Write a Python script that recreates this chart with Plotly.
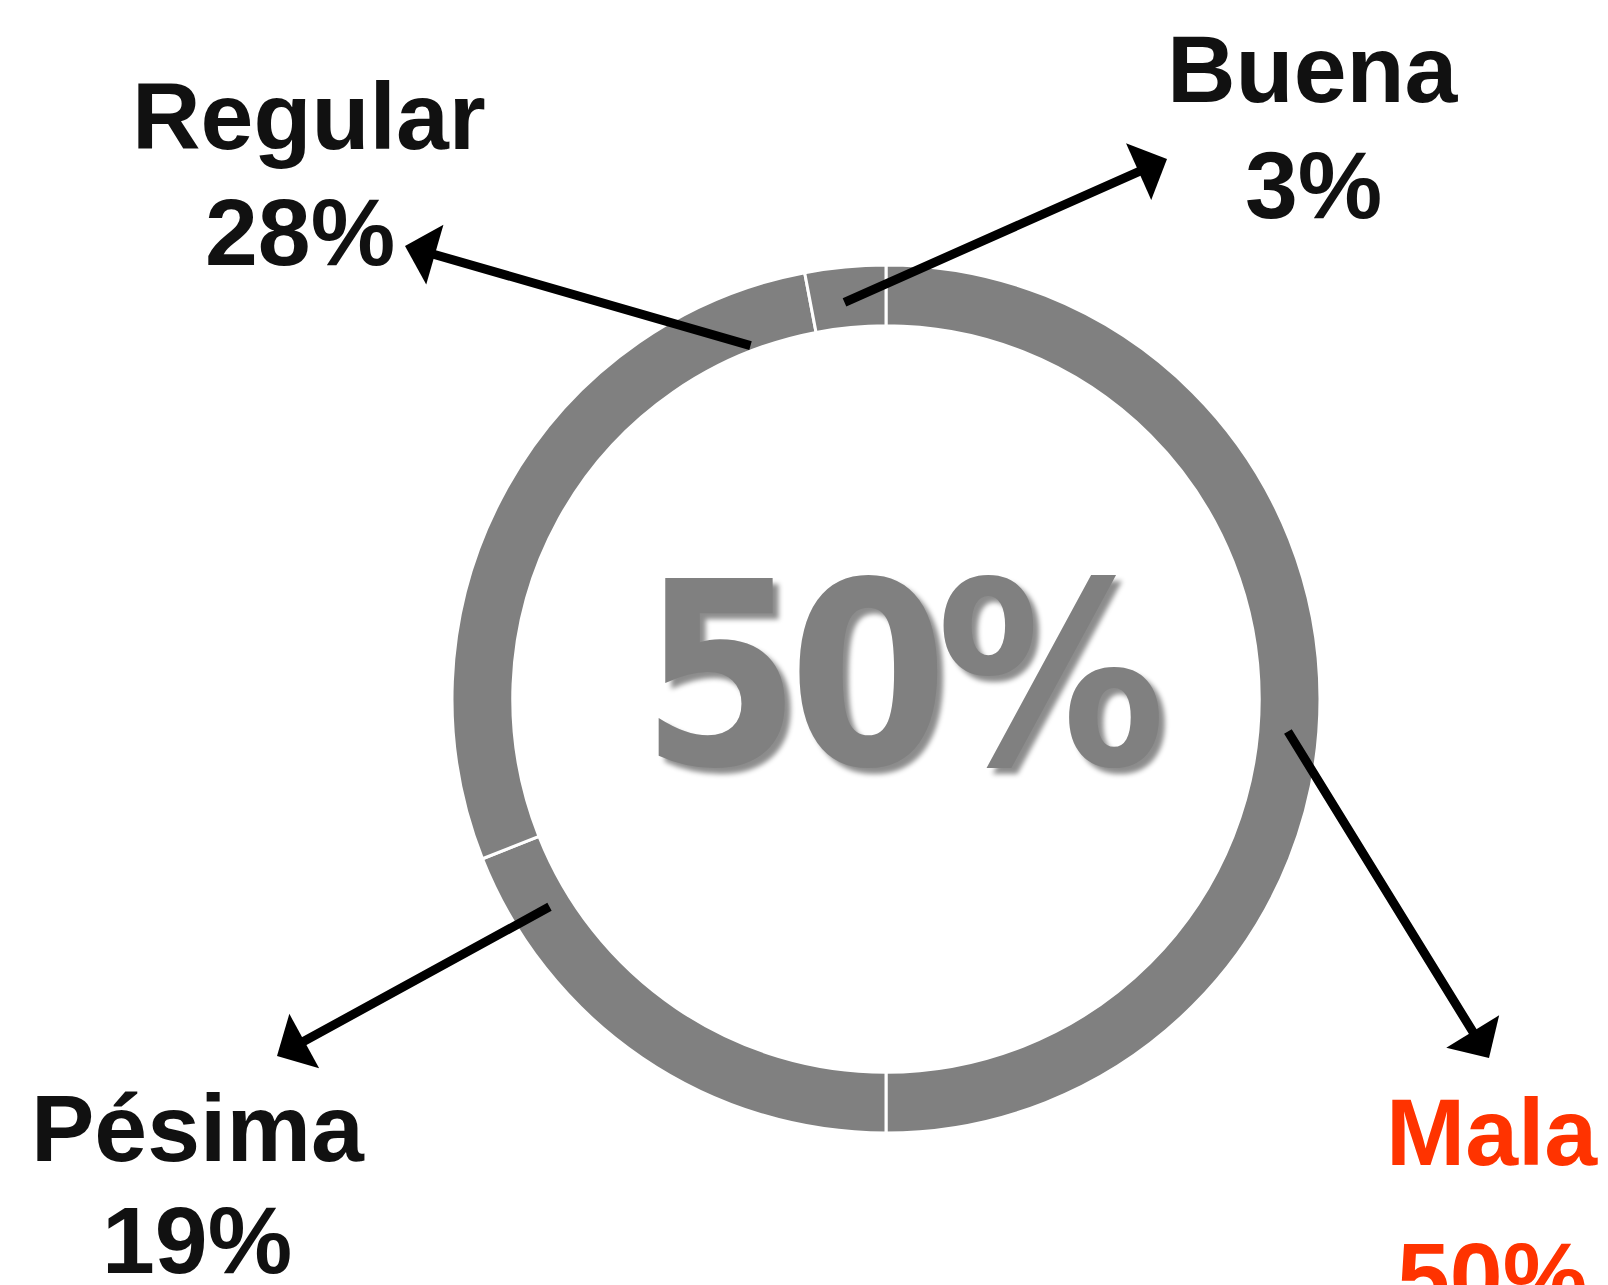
import plotly.graph_objects as go

categories = ["Mala", "Pésima", "Regular", "Buena"]
values = [50, 19, 28, 3]
label_colors = ["#FF3300", "#111111", "#111111", "#111111"]
ring_color = "#808080"

W, H = 1608, 1285
OFF = 8  # page body margin offset

cx, cy, r_out = 886 - OFF, 699 - OFF, 434

fig = go.Figure()
fig.add_trace(go.Pie(
    labels=categories, values=values, sort=False, direction="clockwise",
    rotation=0, hole=0.86, textinfo="none", hoverinfo="label+percent",
    marker=dict(colors=[ring_color] * len(values), line=dict(color="white", width=3)),
    domain=dict(x=[(cx - r_out) / W, (cx + r_out) / W],
                y=[1 - (cy + r_out) / H, 1 - (cy - r_out) / H]),
    showlegend=False,
))

# hidden pixel axes for annotations
fig.add_trace(go.Scatter(x=[0, W], y=[0, H], mode="markers", marker=dict(opacity=0),
                         hoverinfo="skip", showlegend=False))

# label positions (name, pct) and arrow tail/head in pixels
label_pos = {
    "Regular": ((309, 116), (300, 232), (752, 346), (405, 246)),
    "Buena": ((1313, 69), (1313, 185), (843, 303), (1167, 159)),
    "Pésima": ((198, 1128), (197, 1240), (551, 906), (277, 1056)),
    "Mala": ((1492, 1132), (1492, 1276), (1287, 730), (1489, 1058)),
}

def p(x, y):
    return x - OFF, y - OFF

annotations = []
for cat, val, col in zip(categories, values, label_colors):
    (nx, ny), (px, py), (tx, ty), (hx, hy) = [p(*q) for q in label_pos[cat]]
    annotations.append(dict(x=nx, y=ny, xref="x", yref="y", text=cat, showarrow=False,
                            font=dict(family="Liberation Sans", size=95, color=col, weight="bold"),
                            xanchor="center", yanchor="middle"))
    annotations.append(dict(x=px, y=py, xref="x", yref="y", text=f"{val}%", showarrow=False,
                            font=dict(family="Liberation Sans", size=95, color=col, weight="bold"),
                            xanchor="center", yanchor="middle"))
    annotations.append(dict(x=hx, y=hy, xref="x", yref="y", ax=tx, ay=ty, axref="x", ayref="y",
                            text="", showarrow=True, arrowhead=1, arrowsize=1.15, arrowwidth=9,
                            arrowcolor="black", standoff=0, startstandoff=0))

cxt, cyt = p(900, 675)
annotations.append(dict(x=cxt, y=cyt, xref="x", yref="y",
                        text=f"<span style='letter-spacing:-12px'>{values[0]}%</span>",
                        showarrow=False,
                        font=dict(family="DejaVu Sans Condensed, Liberation Sans",
                                  size=255, color=ring_color,
                                  weight="bold", shadow="6px 6px 5px rgba(0,0,0,0.45)"),
                        xanchor="center", yanchor="middle"))

fig.update_layout(
    width=W, height=H, margin=dict(l=0, r=0, t=0, b=0),
    paper_bgcolor="white", plot_bgcolor="rgba(0,0,0,0)",
    xaxis=dict(range=[0, W], visible=False, fixedrange=True),
    yaxis=dict(range=[H, 0], visible=False, fixedrange=True),
    annotations=annotations,
)

fig.write_html("out.html")
